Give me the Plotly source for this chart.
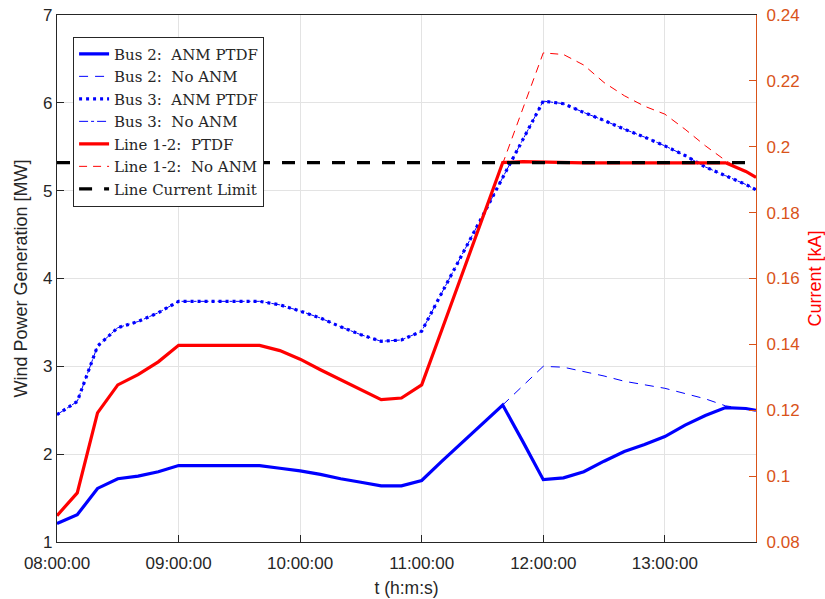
import plotly.graph_objects as go

times = ["08:00", "08:10", "08:20", "08:30", "08:40", "08:50",
         "09:00", "09:10", "09:20", "09:30", "09:40", "09:50",
         "10:00", "10:10", "10:20", "10:30", "10:40", "10:50",
         "11:00", "11:10", "11:20", "11:30", "11:40", "11:50",
         "12:00", "12:10", "12:20", "12:30", "12:40", "12:50",
         "13:00", "13:10", "13:20", "13:30", "13:40", "13:45"]

bus2_anm = [1.21, 1.31, 1.61, 1.72, 1.75, 1.80, 1.87, 1.87, 1.87, 1.87, 1.87, 1.84,
            1.81, 1.77, 1.72, 1.68, 1.64, 1.64, 1.70, 1.92, 2.13, 2.35, 2.56, 2.14,
            1.71, 1.73, 1.80, 1.92, 2.03, 2.11, 2.20, 2.33, 2.44, 2.53, 2.52, 2.50]
bus2_noanm = [1.21, 1.31, 1.61, 1.72, 1.75, 1.80, 1.87, 1.87, 1.87, 1.87, 1.87, 1.84,
              1.81, 1.77, 1.72, 1.68, 1.64, 1.64, 1.70, 1.92, 2.13, 2.35, 2.56, 2.78,
              3.00, 2.99, 2.94, 2.89, 2.83, 2.79, 2.75, 2.69, 2.63, 2.55, 2.52, 2.50]
bus3_anm = [2.45, 2.60, 3.23, 3.44, 3.51, 3.61, 3.74, 3.74, 3.74, 3.74, 3.74, 3.70,
            3.63, 3.55, 3.45, 3.36, 3.285, 3.30, 3.40, 3.84, 4.27, 4.71, 5.15, 5.58,
            6.02, 5.99, 5.89, 5.80, 5.70, 5.61, 5.51, 5.40, 5.27, 5.17, 5.07, 5.01]
bus3_noanm = [2.45, 2.60, 3.23, 3.44, 3.51, 3.61, 3.74, 3.74, 3.74, 3.74, 3.74, 3.70,
              3.63, 3.55, 3.45, 3.36, 3.285, 3.30, 3.40, 3.84, 4.27, 4.71, 5.15, 5.58,
              6.02, 5.99, 5.89, 5.80, 5.70, 5.61, 5.51, 5.40, 5.27, 5.17, 5.07, 5.01]
line12_ptdf = [0.0880, 0.0949, 0.1192, 0.1277, 0.1308, 0.1347, 0.1397, 0.1397, 0.1397,
               0.1397, 0.1397, 0.1381, 0.1355, 0.1323, 0.1293, 0.1261, 0.1232, 0.1237,
               0.1277, 0.1445, 0.1613, 0.1784, 0.1952, 0.1955, 0.1953, 0.1952, 0.1951,
               0.1951, 0.1951, 0.1951, 0.1951, 0.1951, 0.1951, 0.1951, 0.1925, 0.1907]
line12_noanm = [0.0880, 0.0949, 0.1192, 0.1277, 0.1308, 0.1347, 0.1397, 0.1397, 0.1397,
                0.1397, 0.1397, 0.1381, 0.1355, 0.1323, 0.1293, 0.1261, 0.1232, 0.1237,
                0.1277, 0.1445, 0.1613, 0.1784, 0.1952, 0.2120, 0.2285, 0.2280, 0.2248,
                0.2195, 0.2155, 0.2123, 0.2099, 0.2053, 0.2003, 0.1958, 0.1925, 0.1907]
limit_times = ["08:00", "13:45"]
current_limit = [0.1952, 0.1952]

left_ticks = [1, 2, 3, 4, 5, 6, 7]
right_ticks = [0.08, 0.10, 0.12, 0.14, 0.16, 0.18, 0.20, 0.22, 0.24]
right_tick_text = ["0.08", "0.1", "0.12", "0.14", "0.16", "0.18", "0.2", "0.22", "0.24"]
hour_ticks = ["08:00", "09:00", "10:00", "11:00", "12:00", "13:00"]

DAY = "2000-01-01 "
x = [DAY + t + ":00" for t in times]
xl = [DAY + t + ":00" for t in limit_times]
xt = [DAY + t + ":00" for t in hour_ticks]

BLUE = "#0000FF"
RED = "#FF0000"
AX = "#262626"
ORANGE = "#D95319"

fig = go.Figure()
fig.add_trace(go.Scatter(x=x, y=bus2_anm, mode="lines", name="Bus 2:  ANM PTDF",
                         line=dict(color=BLUE, width=3.2)))
fig.add_trace(go.Scatter(x=x, y=bus2_noanm, mode="lines", name="Bus 2:  No ANM",
                         line=dict(color=BLUE, width=1, dash="9px,7px")))
fig.add_trace(go.Scatter(x=x, y=bus3_anm, mode="lines", name="Bus 3:  ANM PTDF",
                         line=dict(color=BLUE, width=3.2, dash="3px,4px")))
fig.add_trace(go.Scatter(x=x, y=bus3_noanm, mode="lines", name="Bus 3:  No ANM",
                         line=dict(color=BLUE, width=1, dash="dashdot")))
fig.add_trace(go.Scatter(x=x, y=line12_ptdf, mode="lines", name="Line 1-2:  PTDF",
                         line=dict(color=RED, width=3.2), yaxis="y2"))
fig.add_trace(go.Scatter(x=x, y=line12_noanm, mode="lines", name="Line 1-2:  No ANM",
                         line=dict(color=RED, width=1, dash="8px,6px"), yaxis="y2"))
fig.add_trace(go.Scatter(x=xl, y=current_limit, mode="lines", name="Line Current Limit",
                         line=dict(color="black", width=3.2, dash="13px,12px"), yaxis="y2"))

fig.update_layout(
    width=825, height=599,
    margin=dict(l=57, r=69, t=15, b=57, autoexpand=False),
    paper_bgcolor="white", plot_bgcolor="white",
    font=dict(family="Liberation Sans, Arial, sans-serif", size=17, color=AX),
    showlegend=True,
    legend=dict(x=0.023, y=0.959, xanchor="left", yanchor="top",
                bgcolor="white", bordercolor=AX, borderwidth=1,
                font=dict(family="DejaVu Serif, serif", size=15, color=AX),
                tracegroupgap=0, itemwidth=30),
    xaxis=dict(type="date", range=[DAY + "08:00:00", DAY + "13:45:00"],
               tickvals=xt, tickformat="%H:%M:%S", automargin=False,
               showgrid=True, gridcolor="#E3E3E3", gridwidth=1,
               showline=True, linecolor=AX, linewidth=1.3, mirror=True,
               ticks="inside", ticklen=7, tickcolor=AX, ticklabelstandoff=5,
               zeroline=False,
               title=dict(text="t (h:m:s)", font=dict(size=17.5, color=AX), standoff=10)),
    yaxis=dict(range=[1, 7], tickvals=left_ticks, automargin=False,
               showgrid=True, gridcolor="#E3E3E3", gridwidth=1,
               showline=True, linecolor=AX, linewidth=1.3,
               ticks="inside", ticklen=7, tickcolor=AX, zeroline=False,
               title=dict(text="Wind Power Generation [MW]", font=dict(size=18, color=AX),
                          standoff=10)),
    yaxis2=dict(range=[0.08, 0.24], tickvals=right_ticks, ticktext=right_tick_text,
                overlaying="y", side="right", showgrid=False, automargin=False,
                showline=True, linecolor=ORANGE, linewidth=1.3,
                ticks="inside", ticklen=7, tickcolor=ORANGE, ticklabelstandoff=6,
                tickfont=dict(color=ORANGE), zeroline=False,
                title=dict(text="Current [kA]", font=dict(size=18, color=RED), standoff=14)),
)

fig.write_html("out.html")
